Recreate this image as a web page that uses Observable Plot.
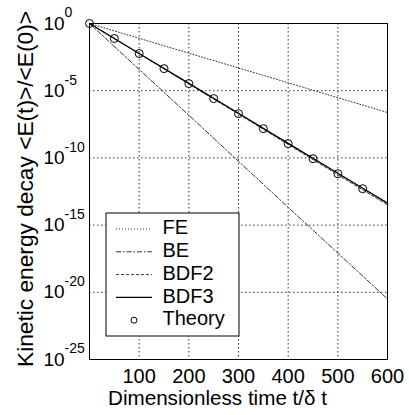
<!DOCTYPE html>
<html>
<head>
<meta charset="utf-8">
<script src="https://cdn.jsdelivr.net/npm/d3@7"></script>
<script src="https://cdn.jsdelivr.net/npm/@observablehq/plot@0.6"></script>
<style>
  html, body { margin: 0; padding: 0; background: #fff; }
  svg { display: block; }
</style>
</head>
<body>
<div id="chart"></div>
<script>
// ---- data ----
const tLine = [0, 100, 200, 300, 400, 500, 600];
const feVals   = [1, 7.9e-2, 6.2e-3, 4.9e-4, 3.9e-5, 3.0e-6, 2.4e-7];
const beVals   = [1, 3.8e-4, 1.5e-7, 5.6e-11, 2.1e-14, 8.3e-18, 3.2e-21];
const bdf2Vals = [1, 5.6e-3, 3.2e-5, 1.8e-7, 1.0e-9, 5.6e-12, 3.2e-14];
const bdf3Vals = [1, 5.9e-3, 3.5e-5, 2.1e-7, 1.2e-9, 7.2e-12, 4.3e-14];
const tTheory  = [0, 50, 100, 150, 200, 250, 300, 350, 400, 450, 500, 550];
const theoryVals = [1, 7.6e-2, 5.8e-3, 4.4e-4, 3.4e-5, 2.6e-6, 1.96e-7, 1.5e-8, 1.15e-9, 8.7e-11, 6.6e-12, 5.1e-13];
const xTicks = [100, 200, 300, 400, 500, 600];
const yTicks = [1e0, 1e-5, 1e-10, 1e-15, 1e-20, 1e-25];
const yExp   = ["0", "-5", "-10", "-15", "-20", "-25"];
const seriesNames = ["FE", "BE", "BDF2", "BDF3", "Theory"];

const FONT = "Liberation Sans, Arial, Helvetica, sans-serif";
const rows = (vals) => tLine.map((t, i) => ({t, v: vals[i]}));
const theory = tTheory.map((t, i) => ({t, v: theoryVals[i]}));
const yLab = yTicks.map((v, i) => ({v, e: yExp[i]}));

const styles = {
  FE:   {stroke: "#333", strokeWidth: 1, strokeDasharray: "1,2"},
  BE:   {stroke: "#333", strokeWidth: 1, strokeDasharray: "5,2,1.5,2"},
  BDF2: {stroke: "#333", strokeWidth: 1, strokeDasharray: "3,2"},
  BDF3: {stroke: "#000", strokeWidth: 1.3}
};

const chart = Plot.plot({
  width: 409,
  height: 415,
  marginLeft: 89,
  marginRight: 22,
  marginTop: 23,
  marginBottom: 56,
  style: {fontFamily: FONT, background: "#fff", overflow: "visible"},
  x: {domain: [0, 600], ticks: xTicks, label: null},
  y: {type: "log", domain: [1e-25, 1], label: null, axis: null},
  marks: [
    Plot.gridX(xTicks.filter(d => d < 600), {stroke: "#000", strokeOpacity: 1, strokeDasharray: "1.5,2.5", strokeWidth: 0.8}),
    Plot.gridY(yTicks.filter(d => d < 1 && d > 1e-25), {stroke: "#000", strokeOpacity: 1, strokeDasharray: "1.5,2.5", strokeWidth: 0.8}),
    Plot.line(rows(feVals), {x: "t", y: "v", ...styles.FE}),
    Plot.line(rows(beVals), {x: "t", y: "v", ...styles.BE}),
    Plot.line(rows(bdf2Vals), {x: "t", y: "v", ...styles.BDF2}),
    Plot.line(rows(bdf3Vals), {x: "t", y: "v", ...styles.BDF3}),
    Plot.dot(theory, {x: "t", y: "v", r: 4, stroke: "#000", strokeWidth: 1, fill: "none"}),
    Plot.frame({stroke: "#000", strokeWidth: 1}),
    Plot.axisX({ticks: xTicks, tickSize: 0, tickPadding: 9, fontSize: 20, label: null, fill: "#000"}),
    Plot.text(yLab, {y: "v", text: () => "10", frameAnchor: "left", dx: -46, textAnchor: "start", fontSize: 19, fill: "#000"}),
    Plot.text(yLab, {y: "v", text: "e", frameAnchor: "left", dx: -25, dy: -10.5, textAnchor: "start", fontSize: 14, fill: "#000"})
  ]
});

const svg = d3.select(chart);
// axis titles
svg.append("text")
  .attr("transform", "translate(33,189) rotate(-90)")
  .attr("text-anchor", "middle")
  .attr("font-family", FONT).attr("font-size", 22).attr("fill", "#000")
  .attr("textLength", 356).attr("lengthAdjust", "spacingAndGlyphs")
  .text("Kinetic energy decay <E(t)>/<E(0)>");
svg.append("text")
  .attr("x", 217.5).attr("y", 405)
  .attr("text-anchor", "middle")
  .attr("font-family", FONT).attr("font-size", 20).attr("fill", "#000")
  .attr("textLength", 219).attr("lengthAdjust", "spacingAndGlyphs")
  .text("Dimensionless time t/\u03b4 t");

// legend
const lg = svg.append("g");
lg.append("rect").attr("x", 106).attr("y", 213).attr("width", 133).attr("height", 123)
  .attr("fill", "#fff").attr("stroke", "#000").attr("stroke-width", 1);
seriesNames.forEach((name, i) => {
  const yy = 229 + i * 22.8;
  if (name === "Theory") {
    lg.append("circle").attr("cx", 134).attr("cy", yy).attr("r", 3)
      .attr("fill", "none").attr("stroke", "#000");
  } else {
    const s = styles[name];
    lg.append("line").attr("x1", 116).attr("x2", 152).attr("y1", yy).attr("y2", yy)
      .attr("stroke", s.stroke).attr("stroke-width", s.strokeWidth)
      .attr("stroke-dasharray", s.strokeDasharray || null);
  }
  lg.append("text").attr("x", 162.5).attr("y", yy)
    .attr("text-anchor", "start")
    .attr("dominant-baseline", "middle")
    .attr("font-family", FONT).attr("font-size", 20).attr("fill", "#000")
    .text(name);
});

document.getElementById("chart").appendChild(chart);
</script>
</body>
</html>
